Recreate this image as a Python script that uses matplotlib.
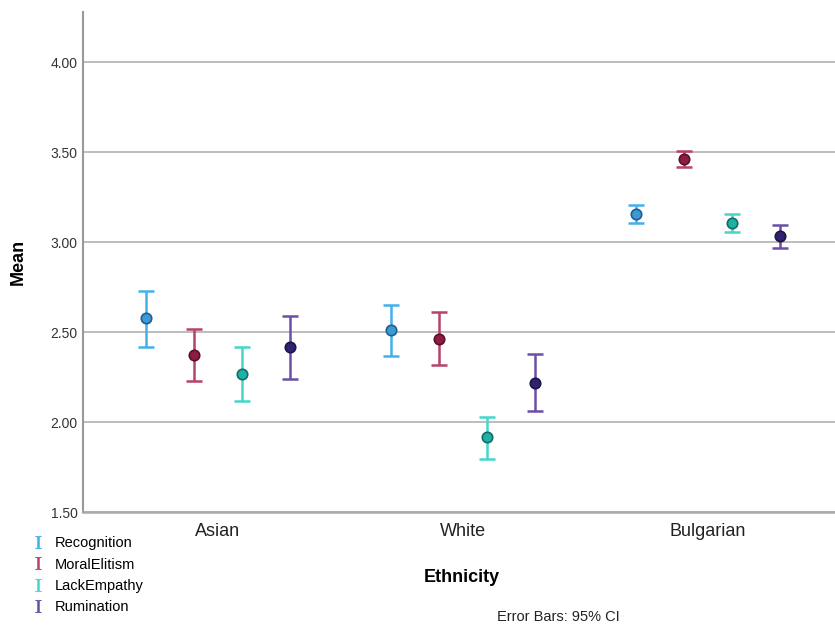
import matplotlib
matplotlib.use('Agg')
import matplotlib.pyplot as plt
from matplotlib.lines import Line2D
import numpy as np

plt.rcParams['font.family'] = ['Liberation Sans', 'DejaVu Sans']
plt.rcParams['mathtext.fontset'] = 'stix'

categories = ['Asian', 'White', 'Bulgarian']
series = ['Recognition', 'MoralElitism', 'LackEmpathy', 'Rumination']

# means and 95% CI bounds per series (Asian, White, Bulgarian)
means = {
    'Recognition':  [2.58, 2.51, 3.155],
    'MoralElitism': [2.375, 2.46, 3.465],
    'LackEmpathy':  [2.265, 1.915, 3.105],
    'Rumination':   [2.415, 2.215, 3.035],
}
ci_low = {
    'Recognition':  [2.42, 2.37, 3.105],
    'MoralElitism': [2.23, 2.32, 3.42],
    'LackEmpathy':  [2.115, 1.795, 3.055],
    'Rumination':   [2.24, 2.06, 2.97],
}
ci_high = {
    'Recognition':  [2.73, 2.65, 3.205],
    'MoralElitism': [2.52, 2.61, 3.505],
    'LackEmpathy':  [2.415, 2.03, 3.155],
    'Rumination':   [2.59, 2.38, 3.095],
}

bar_colors = {'Recognition': '#43b0ec', 'MoralElitism': '#b7436a',
              'LackEmpathy': '#45d6cc', 'Rumination': '#6b4fa6'}
dot_colors = {'Recognition': '#3a9ad6', 'MoralElitism': '#8e1b42',
              'LackEmpathy': '#1fb0a6', 'Rumination': '#2f2270'}
edge_colors = {'Recognition': '#1f5f8a', 'MoralElitism': '#5a1029',
               'LackEmpathy': '#176b66', 'Rumination': '#1c1548'}

fig = plt.figure(figsize=(8.35, 6.26), dpi=100)
ax = fig.add_axes([0.0994, 0.182, 0.9006, 0.799])

x = np.arange(len(categories))
offsets = [-1.5, -0.5, 0.5, 1.5]
step = 0.196

for s, off in zip(series, offsets):
    m = np.array(means[s])
    lo = m - np.array(ci_low[s])
    hi = np.array(ci_high[s]) - m
    ax.errorbar(x + off * step, m, yerr=[lo, hi], fmt='none',
                ecolor=bar_colors[s], elinewidth=1.8, capsize=6, capthick=1.8,
                zorder=3)
    ax.plot(x + off * step, m, 'o', ms=7.5, mfc=dot_colors[s],
            mec=edge_colors[s], mew=1.2, zorder=4)

ax.set_xlim(-0.551, 2.518)
ax.set_ylim(1.5, 4.28)
ax.set_yticks([1.5, 2.0, 2.5, 3.0, 3.5, 4.0])
ax.set_yticklabels(['1.50', '2.00', '2.50', '3.00', '3.50', '4.00'],
                   fontsize=10, color='#333333')
ax.set_xticks(x)
ax.set_xticklabels(categories, fontsize=13, color='#222222')
ax.tick_params(axis='y', length=0, pad=4)
ax.tick_params(axis='x', length=0, pad=8)

ax.grid(axis='y', color='#b8b8b8', linewidth=1.3)
ax.set_axisbelow(True)
for side in ['top', 'right']:
    ax.spines[side].set_visible(False)
ax.spines['left'].set_color('#999999')
ax.spines['bottom'].set_color('#aaaaaa')
ax.spines['left'].set_linewidth(1.5)
ax.spines['bottom'].set_linewidth(1.8)

fig.text(18 / 835, 1 - 262 / 626, 'Mean', fontsize=13, fontweight='bold',
         rotation=90, ha='center', va='center')
fig.text(462 / 835, 1 - 577 / 626, 'Ethnicity', fontsize=13,
         fontweight='bold', ha='center', va='center')
fig.text(558 / 835, 1 - 617 / 626, 'Error Bars: 95% CI', fontsize=10.5,
         ha='center', va='center', color='#222222')

handles = [Line2D([], [], linestyle='none', marker=r'$\mathrm{I}$',
                  markersize=9, color=bar_colors[s], markeredgewidth=0.4)
           for s in series]
fig.legend(handles, series, loc='upper left',
           bbox_to_anchor=(25 / 835, 1 - 529 / 626), frameon=False,
           fontsize=10.5, handlelength=0.8, handletextpad=0.75,
           labelspacing=0.5, borderpad=0)

fig.savefig('out.png', dpi=100)
